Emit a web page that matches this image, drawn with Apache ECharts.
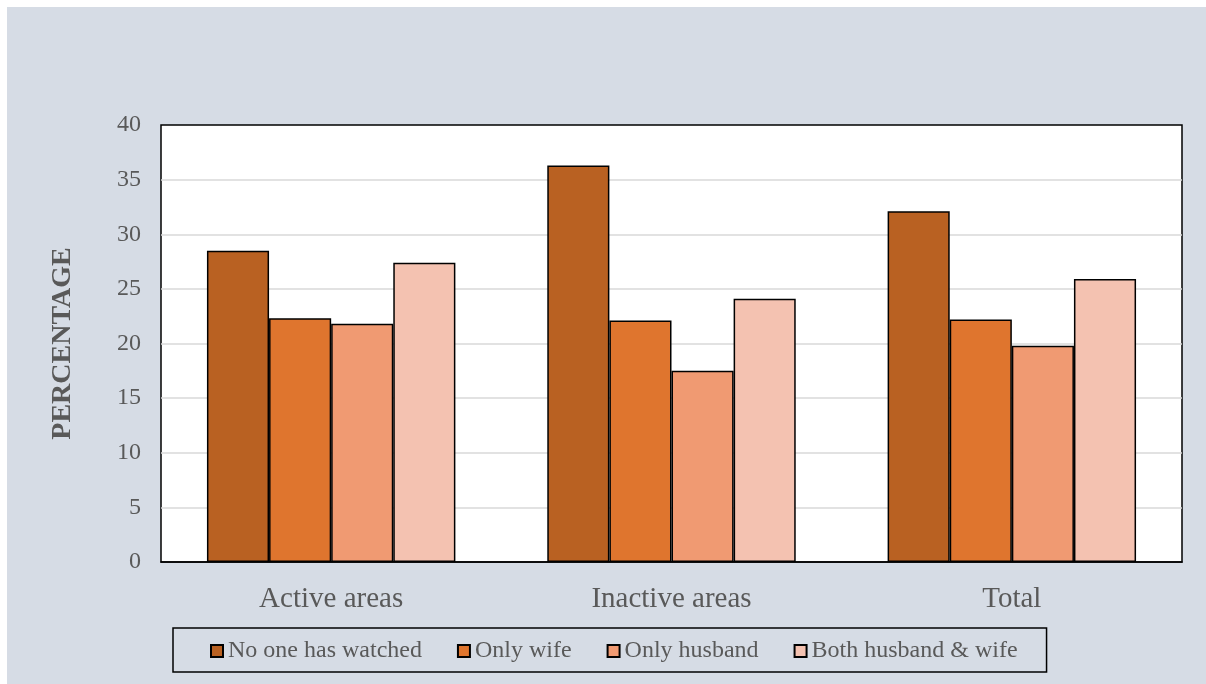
<!DOCTYPE html>
<html>
<head>
<meta charset="utf-8">
<script src="https://cdn.jsdelivr.net/npm/echarts@6/dist/echarts.min.js"></script>
<style>
  html, body { margin: 0; padding: 0; background: #fff; }
  #chart { position: absolute; left: 7px; top: 7px; width: 1199px; height: 677px; }
</style>
</head>
<body>
<div id="chart"></div>
<script>
var categories = ['Active areas', 'Inactive areas', 'Total'];
var seriesNames = ['No one has watched', 'Only wife', 'Only husband', 'Both husband & wife'];
var noOne = [28.5, 36.3, 32.1];
var onlyWife = [22.3, 22.1, 22.2];
var onlyHusband = [21.8, 17.5, 19.8];
var both = [27.4, 24.1, 25.9];
var colors = ['#B96122', '#DF752E', '#F09A72', '#F4C2B1'];

var font = '"Liberation Serif", "Times New Roman", serif';
var textColor = '#595959';

function bar(name, data, color) {
  return {
    name: name,
    type: 'bar',
    data: data,
    barGap: '0%',
    barCategoryGap: '27%',
    itemStyle: { color: color, borderColor: '#000', borderWidth: 1.5 }
  };
}

var myechart = echarts.init(document.getElementById('chart'));
myechart.setOption({
  backgroundColor: '#D6DCE5',
  animation: false,
  grid: {
    left: 154,
    top: 118,
    right: 24,
    bottom: 122,
    show: true,
    backgroundColor: '#fff',
    borderColor: '#000',
    borderWidth: 1.5
  },
  legend: {
    data: seriesNames,
    left: 166,
    top: 621,
    padding: [11, 29, 9, 37],
    borderColor: '#000',
    borderWidth: 1.5,
    itemWidth: 12,
    itemHeight: 12,
    itemGap: 35,
    icon: 'rect',
    textStyle: { fontFamily: font, fontSize: 24, color: textColor }
  },
  xAxis: {
    type: 'category',
    data: categories,
    axisLine: { lineStyle: { color: '#000', width: 1.5 } },
    axisTick: { show: false },
    axisLabel: { fontFamily: font, fontSize: 29, color: textColor, margin: 23 }
  },
  yAxis: {
    type: 'value',
    min: 0,
    max: 40,
    interval: 5,
    name: 'PERCENTAGE',
    nameLocation: 'middle',
    nameGap: 84,
    nameTextStyle: { fontFamily: font, fontSize: 28, fontWeight: 'bold', color: textColor },
    axisLine: { show: false },
    axisTick: { show: false },
    axisLabel: { fontFamily: font, fontSize: 24, color: textColor, margin: 20 },
    splitLine: { showMinLine: false, showMaxLine: false, lineStyle: { color: '#D9D9D9', width: 1.5 } }
  },
  series: [
    bar(seriesNames[0], noOne, colors[0]),
    bar(seriesNames[1], onlyWife, colors[1]),
    bar(seriesNames[2], onlyHusband, colors[2]),
    bar(seriesNames[3], both, colors[3])
  ]
});
</script>
</body>
</html>
